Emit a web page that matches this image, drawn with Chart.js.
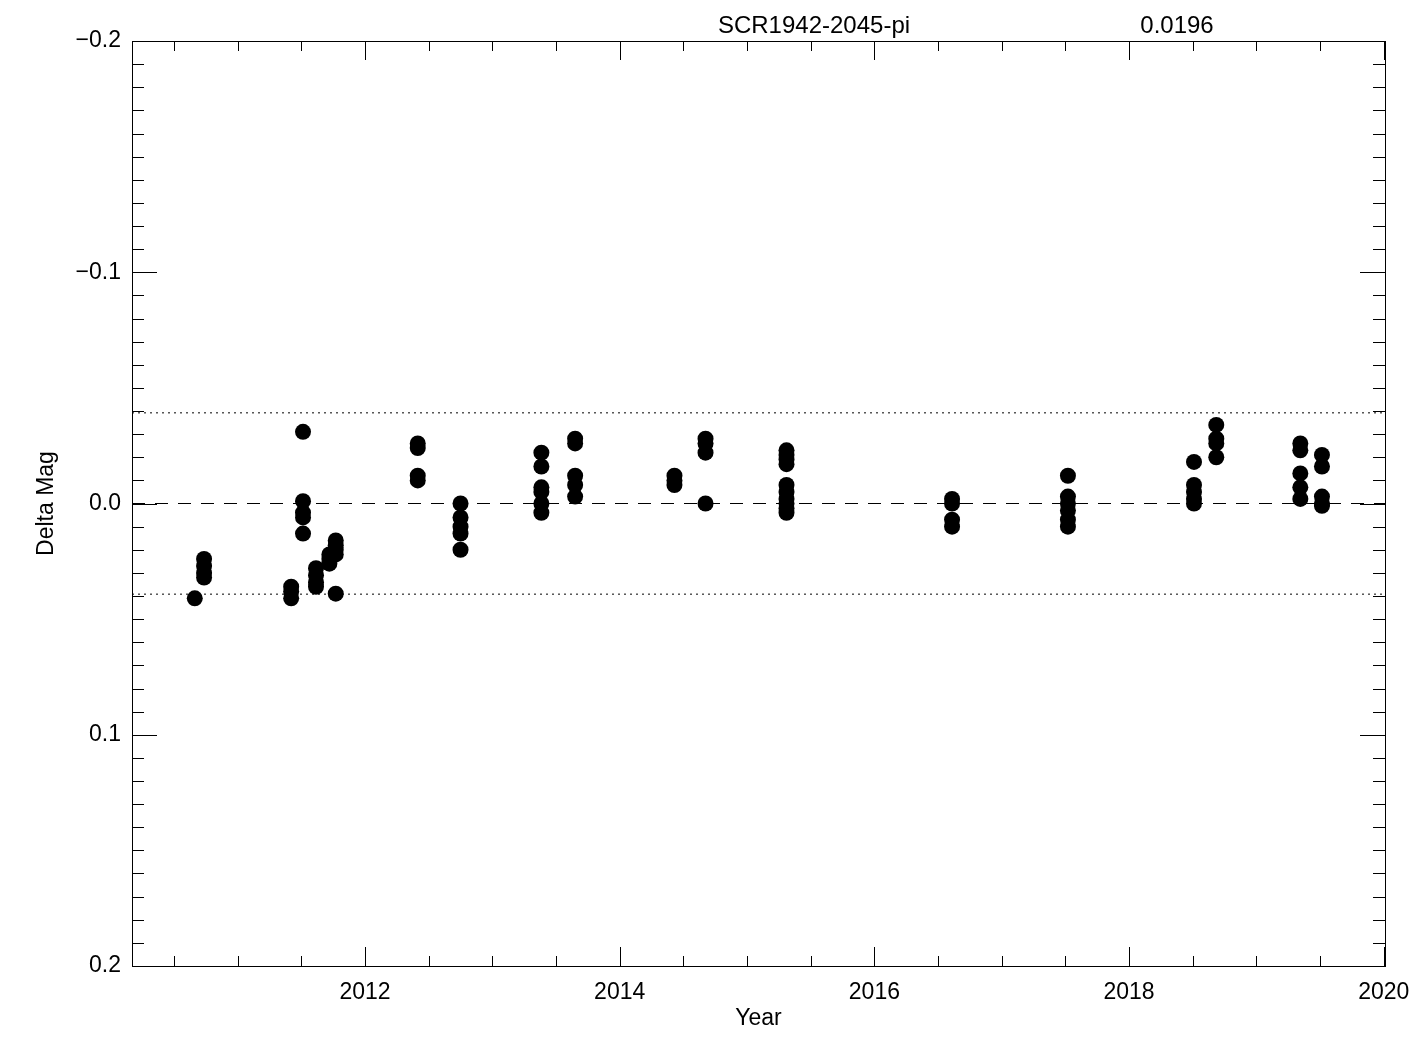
<!DOCTYPE html>
<html>
<head>
<meta charset="utf-8">
<script src="https://cdn.jsdelivr.net/npm/chart.js@4"></script>
<style>
  body { margin: 0; background: #fff; }
  #wrap { width: 1425px; height: 1050px; position: relative; }
</style>
</head>
<body>
<div id="wrap"><canvas id="myChart"></canvas></div>
<script>
// epochs (decimal year) and the delta mags measured at each one
const epochYears = [2010.663, 2010.736, 2011.42, 2011.513, 2011.615, 2011.72, 2011.77,
  2012.414, 2012.75, 2013.385, 2013.65, 2014.43, 2014.674, 2015.31,
  2016.61, 2017.52, 2018.51, 2018.685, 2019.345, 2019.515];
const magsByEpoch = [
  [0.041],
  [0.024, 0.027, 0.030, 0.032],
  [0.036, 0.038, 0.041],
  [-0.031, -0.001, 0.004, 0.006, 0.013],
  [0.028, 0.031, 0.034, 0.036],
  [0.022, 0.024, 0.026],
  [0.016, 0.018, 0.020, 0.022, 0.039],
  [-0.026, -0.024, -0.012, -0.010],
  [0.000, 0.006, 0.010, 0.013, 0.020],
  [-0.022, -0.016, -0.007, -0.005, 0.000, 0.004],
  [-0.028, -0.026, -0.012, -0.008, -0.003],
  [-0.012, -0.010, -0.008],
  [-0.028, -0.026, -0.022, 0.000],
  [-0.023, -0.021, -0.019, -0.017, -0.008, -0.005, -0.002, 0.000, 0.002, 0.004],
  [-0.002, 0.000, 0.007, 0.010],
  [-0.012, -0.003, 0.000, 0.003, 0.007, 0.010],
  [-0.018, -0.008, -0.005, -0.002, 0.000],
  [-0.034, -0.028, -0.026, -0.020],
  [-0.026, -0.023, -0.013, -0.007, -0.002],
  [-0.021, -0.016, -0.003, 0.000, 0.001]
];
const starName = 'SCR1942-2045-pi';
const sigma = 0.0196;

const xMajorTicks = [2012, 2014, 2016, 2018, 2020];
const xTickLabels = ['2012', '2014', '2016', '2018', '2020'];
const yMajorTicks = [-0.2, -0.1, 0.0, 0.1, 0.2];
const yTickLabels = ['\u22120.2', '\u22120.1', '0.0', '0.1', '0.2'];
const xRange = [2010.17, 2020.01];
const yRange = [-0.2, 0.2];

const FONT = 'Liberation Sans';

let points = [];
epochYears.forEach(function(yr, i) {
  magsByEpoch[i].forEach(function(m) {
    points.push({x: yr, y: m});
  });
});

function hLine(v) {
  return [{x: xRange[0], y: v}, {x: xRange[1], y: v}];
}

// minor tick lists: 0.5 yr and 0.01 mag
let xMinor = [];
for (let i = 1; i * 0.5 + 2010 <= 2020.001; i++) xMinor.push(2010 + i * 0.5);
let yMinor = [];
for (let i = -20; i <= 20; i++) yMinor.push(i / 100);

// box + inward IDL style ticks, and the header texts
const idlFrame = {
  id: 'idlFrame',
  afterDraw(chart) {
    const c = chart.ctx;
    const a = chart.chartArea;
    const xs = chart.scales.x, ys = chart.scales.y;
    c.save();
    c.strokeStyle = '#000';
    c.lineWidth = 1;
    c.strokeRect(a.left + 0.5, a.top + 0.5, a.right - a.left, a.bottom - a.top);
    c.beginPath();
    xMinor.forEach(function(v) {
      const px = Math.round(xs.getPixelForValue(v)) + 0.5;
      const len = xMajorTicks.indexOf(v) >= 0 ? 19 : 10;
      c.moveTo(px, a.bottom); c.lineTo(px, a.bottom - len);
      c.moveTo(px, a.top); c.lineTo(px, a.top + len);
    });
    yMinor.forEach(function(v) {
      const py = Math.round(ys.getPixelForValue(v)) + 0.5;
      const major = yMajorTicks.some(t => Math.abs(t - v) < 1e-9);
      const len = major ? 25 : 12;
      c.moveTo(a.left, py); c.lineTo(a.left + len, py);
      c.moveTo(a.right, py); c.lineTo(a.right - len, py);
    });
    c.stroke();
    c.fillStyle = '#000';
    c.font = '24px "' + FONT + '"';
    c.textAlign = 'center';
    c.textBaseline = 'alphabetic';
    c.fillText(starName, 814, 33);
    c.fillText(sigma.toFixed(4), 1177, 33);
    c.restore();
  }
};

const ctx = document.getElementById('myChart').getContext('2d');
const chart = new Chart(ctx, {
  type: 'scatter',
  data: {
    datasets: [{
      label: 'Delta Mag',
      data: points,
      backgroundColor: '#000',
      borderWidth: 0,
      pointRadius: 8,
      pointHoverRadius: 8
    }, {
      type: 'line',
      label: 'zero',
      data: hLine(0),
      borderColor: '#000',
      borderWidth: 1,
      borderDash: [13, 10],
      pointRadius: 0,
      fill: false
    }, {
      type: 'line',
      label: '+2 sigma',
      data: hLine(2 * sigma),
      borderColor: '#000',
      borderWidth: 1,
      borderDash: [2, 4],
      pointRadius: 0,
      fill: false
    }, {
      type: 'line',
      label: '-2 sigma',
      data: hLine(-2 * sigma),
      borderColor: '#000',
      borderWidth: 1,
      borderDash: [2, 4],
      pointRadius: 0,
      fill: false
    }]
  },
  options: {
    responsive: true,
    maintainAspectRatio: false,
    animation: false,
    layout: { padding: { top: 41, right: 40, left: 0, bottom: 0 } },
    plugins: {
      legend: { display: false },
      tooltip: { enabled: false }
    },
    scales: {
      x: {
        type: 'linear',
        min: xRange[0],
        max: xRange[1],
        grid: { display: false, drawTicks: false },
        border: { display: false },
        afterBuildTicks: function(s) {
          s.ticks = xMajorTicks.map(v => ({value: v}));
        },
        afterFit: function(s) { s.height = 84; },
        ticks: {
          autoSkip: false,
          maxRotation: 0,
          padding: 13,
          color: '#000',
          font: { family: FONT, size: 23 },
          callback: function(v) {
            const i = xMajorTicks.indexOf(v);
            return i >= 0 ? xTickLabels[i] : '';
          }
        },
        title: {
          display: true,
          text: 'Year',
          color: '#000',
          font: { family: FONT, size: 23 },
          padding: { top: 0, bottom: 18 }
        }
      },
      y: {
        type: 'linear',
        reverse: true,
        min: yRange[0],
        max: yRange[1],
        grid: { display: false, drawTicks: false },
        border: { display: false },
        afterBuildTicks: function(s) {
          s.ticks = yMajorTicks.map(v => ({value: v}));
        },
        afterFit: function(s) { s.width = 132; },
        ticks: {
          autoSkip: false,
          padding: 11,
          color: '#000',
          font: { family: FONT, size: 23 },
          callback: function(v) {
            const i = yMajorTicks.findIndex(t => Math.abs(t - v) < 1e-9);
            return i >= 0 ? yTickLabels[i] : '';
          }
        },
        title: {
          display: true,
          text: 'Delta Mag',
          color: '#000',
          font: { family: FONT, size: 23 },
          padding: { top: 33, bottom: 0 }
        }
      }
    }
  },
  plugins: [idlFrame]
});
</script>
</body>
</html>
